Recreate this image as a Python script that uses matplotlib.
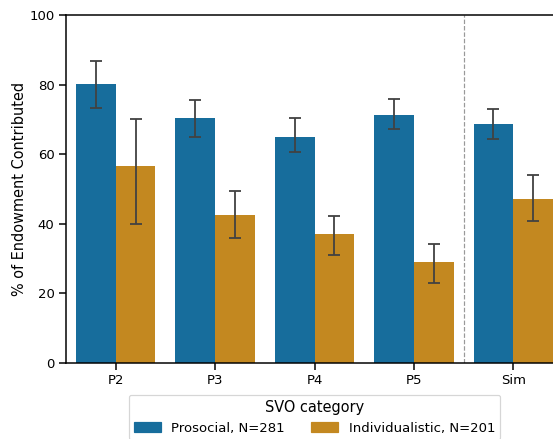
import matplotlib
matplotlib.use("Agg")
import matplotlib.pyplot as plt
import numpy as np
from matplotlib.patches import Patch

categories = ["P2", "P3", "P4", "P5", "Sim"]
prosocial = [80.2, 70.4, 64.9, 71.3, 68.7]
prosocial_lo = [73.4, 65.0, 60.7, 67.1, 64.4]
prosocial_hi = [86.9, 75.5, 70.4, 75.8, 73.1]
individ = [56.6, 42.5, 37.1, 29.0, 47.1]
individ_lo = [40.0, 36.0, 31.1, 23.1, 40.7]
individ_hi = [70.1, 49.5, 42.3, 34.2, 54.1]
series_labels = ["Prosocial, N=281", "Individualistic, N=201"]
colors = ["#176d9c", "#c38820"]

W, H = 553, 439
DPI = 87
fig = plt.figure(figsize=(W / DPI, H / DPI), dpi=DPI)
ax = fig.add_axes([66 / W, 76 / H, 497 / W, 348 / H])

x = np.arange(len(categories))
bw = 0.4
for i, (vals, lo, hi) in enumerate([(prosocial, prosocial_lo, prosocial_hi),
                                    (individ, individ_lo, individ_hi)]):
    pos = x + (i - 0.5) * bw
    ax.bar(pos, vals, width=bw, color=colors[i], zorder=2)
    vals = np.array(vals)
    yerr = [vals - np.array(lo), np.array(hi) - vals]
    ax.errorbar(pos, vals, yerr=yerr, fmt="none", ecolor="#424242",
                elinewidth=1.5, capsize=5.0, capthick=1.5, zorder=3)

ax.axvline(3.5, color="#999999", linestyle="--", linewidth=1.0, zorder=1)
ax.set_xlim(-0.5, 4.5)
ax.set_ylim(0, 100)
ax.set_xticks(x)
ax.set_xticklabels(categories)
ax.set_yticks([0, 20, 40, 60, 80, 100])
ax.tick_params(axis="both", length=6, width=1.25, labelsize=11, pad=3.5)
for s in ax.spines.values():
    s.set_linewidth(1.25)
ax.set_ylabel("% of Endowment Contributed", fontsize=12, labelpad=1.5)

handles = [Patch(color=c) for c in colors]
ax.legend(handles, series_labels, title="SVO category", ncol=2,
          loc="upper center", bbox_to_anchor=(0.5, -0.072), fontsize=11,
          title_fontsize=12, frameon=True, handlelength=2.0, columnspacing=2.0,
          borderaxespad=0.5)

fig.savefig("out.png", dpi=DPI)
